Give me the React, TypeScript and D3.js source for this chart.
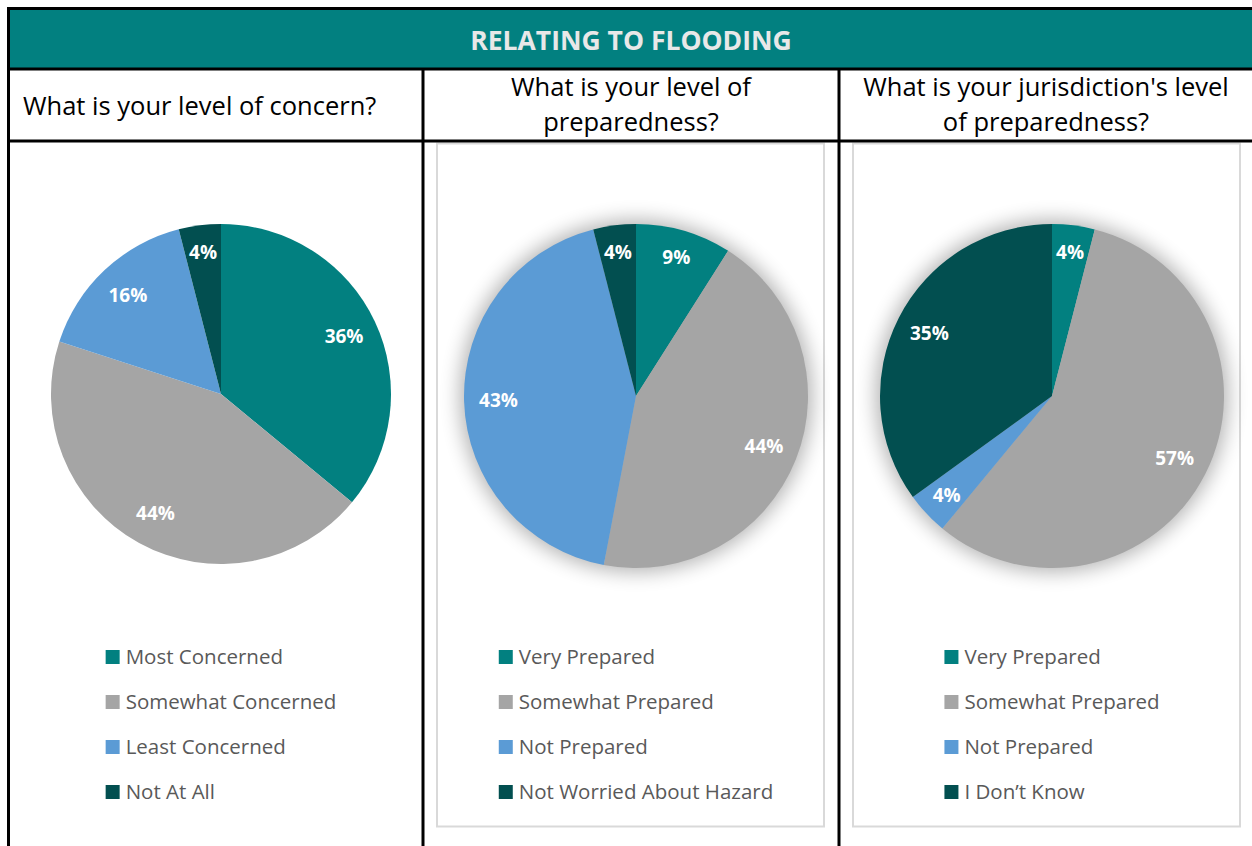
import React, { useEffect, useRef } from "react";
import * as d3 from "d3";

const headerTitle = "RELATING TO FLOODING";
const questionTexts = [
  ["What is your level of concern?"],
  ["What is your level of", "preparedness?"],
  ["What is your jurisdiction's level", "of preparedness?"],
];

const concernLabels = ["Most Concerned", "Somewhat Concerned", "Least Concerned", "Not At All"];
const concernValues = [36, 44, 16, 4];

const personalPrepLabels = ["Very Prepared", "Somewhat Prepared", "Not Prepared", "Not Worried About Hazard"];
const personalPrepValues = [9, 44, 43, 4];

const jurisdictionPrepLabels = ["Very Prepared", "Somewhat Prepared", "Not Prepared", "I Don\u2019t Know"];
const jurisdictionPrepValues = [4, 57, 4, 35];

const sliceColors = ["#028080", "#A5A5A5", "#5B9BD5", "#024F50"];

const W = 1252;
const H = 846;
const FONT = "'Open Sans', 'Noto Sans', sans-serif";

export default function App() {
  const ref = useRef<SVGSVGElement | null>(null);

  useEffect(() => {
    const svg = d3.select(ref.current);
    svg.selectAll("*").remove();

    const defs = svg.append("defs");
    const f = defs
      .append("filter")
      .attr("id", "pieShadow")
      .attr("x", "-40%")
      .attr("y", "-40%")
      .attr("width", "180%")
      .attr("height", "180%");
    f.append("feGaussianBlur").attr("stdDeviation", 10);

    const colX = [8.5, 423, 839, 1262];
    const topY = 8.5;
    const headBottom = 69;
    const qBottom = 141;

    // header band
    svg
      .append("rect")
      .attr("x", colX[0])
      .attr("y", topY)
      .attr("width", W - colX[0] + 10)
      .attr("height", headBottom - topY)
      .attr("fill", "#028080");
    svg
      .append("text")
      .attr("x", 631)
      .attr("y", 50)
      .attr("text-anchor", "middle")
      .attr("font-family", FONT)
      .attr("font-weight", 700)
      .attr("font-size", 26.5)
      .attr("fill", "#E8E8E8")
      .text(headerTitle);

    // panel chart-area borders (panels 2 and 3)
    const chartAreas = [null, [437, 824], [853, 1240]];
    chartAreas.forEach((ca) => {
      if (!ca) return;
      svg
        .append("rect")
        .attr("x", ca[0])
        .attr("y", 143.5)
        .attr("width", ca[1] - ca[0])
        .attr("height", 683)
        .attr("fill", "#fff")
        .attr("stroke", "#D9D9D9")
        .attr("stroke-width", 2);
    });

    // table lines
    const lineG = svg.append("g").attr("stroke", "#000").attr("stroke-width", 3);
    lineG.append("line").attr("x1", colX[0] - 1.5).attr("x2", W + 5).attr("y1", topY).attr("y2", topY);
    lineG.append("line").attr("x1", colX[0]).attr("x2", W + 5).attr("y1", headBottom).attr("y2", headBottom);
    lineG.append("line").attr("x1", colX[0]).attr("x2", W + 5).attr("y1", qBottom).attr("y2", qBottom);
    lineG.append("line").attr("x1", colX[0]).attr("x2", colX[0]).attr("y1", topY).attr("y2", H + 5);
    [colX[1], colX[2]].forEach((x) => {
      lineG.append("line").attr("x1", x).attr("x2", x).attr("y1", headBottom).attr("y2", H + 5);
    });

    // questions
    questionTexts.forEach((lines, i) => {
      const t = svg
        .append("text")
        .attr("font-family", FONT)
        .attr("font-size", 25.5)
        .attr("fill", "#000");
      if (lines.length === 1) {
        t.attr("x", 23).attr("y", 115).attr("text-anchor", "start").text(lines[0]);
      } else {
        const cx = (colX[i] + colX[i + 1 === 3 ? 3 : i + 1]) / 2;
        const centerX = i === 2 ? 1046 : cx;
        lines.forEach((ln, j) => {
          t.append("tspan")
            .attr("x", centerX)
            .attr("y", 96 + j * 35)
            .attr("text-anchor", "middle")
            .text(ln);
        });
      }
    });

    const panels = [
      { labels: concernLabels, values: concernValues, cx: 221, cy: 394, r: 170, shadow: false },
      { labels: personalPrepLabels, values: personalPrepValues, cx: 636, cy: 396, r: 172, shadow: true },
      { labels: jurisdictionPrepLabels, values: jurisdictionPrepValues, cx: 1052, cy: 396, r: 172, shadow: true },
    ];

    const pie = d3.pie<number>().sort(null).value((d) => d);
    const legendRows = [657, 702, 747, 792];

    panels.forEach((p) => {
      const g = svg.append("g").attr("transform", `translate(${p.cx},${p.cy})`);
      if (p.shadow) {
        g.append("circle")
          .attr("r", p.r + 4)
          .attr("fill", "#000")
          .attr("opacity", 0.3)
          .attr("filter", "url(#pieShadow)");
      }
      const arcs = pie(p.values);
      const arc = d3.arc<d3.PieArcDatum<number>>().innerRadius(0).outerRadius(p.r);
      g.selectAll("path.slice")
        .data(arcs)
        .join("path")
        .attr("class", "slice")
        .attr("d", arc)
        .attr("fill", (_d, i) => sliceColors[i]);

      g.selectAll("text.lbl")
        .data(arcs)
        .join("text")
        .attr("class", "lbl")
        .attr("transform", (d) => {
          const k = d.data < 10 ? 0.84 : 0.8;
          const la = d3.arc<d3.PieArcDatum<number>>().innerRadius(p.r * k).outerRadius(p.r * k);
          const [x, y] = la.centroid(d);
          return `translate(${x},${y})`;
        })
        .attr("text-anchor", "middle")
        .attr("dy", "0.35em")
        .attr("font-family", FONT)
        .attr("font-weight", 700)
        .attr("font-size", 19)
        .attr("fill", "#fff")
        .text((d) => `${d.data}%`);

      // legend
      const lg = svg.append("g");
      const items = lg
        .selectAll("g.item")
        .data(p.labels)
        .join("g")
        .attr("class", "item")
        .attr("transform", (_d, i) => `translate(0,${legendRows[i]})`);
      items
        .append("rect")
        .attr("x", 0)
        .attr("y", -7)
        .attr("width", 14)
        .attr("height", 14)
        .attr("fill", (_d, i) => sliceColors[i]);
      const texts = items
        .append("text")
        .attr("x", 20)
        .attr("y", 0)
        .attr("dy", "0.35em")
        .attr("font-family", FONT)
        .attr("font-size", 20.5)
        .attr("fill", "#595959")
        .text((d) => d);
      let maxW = 0;
      texts.each(function () {
        const w = (this as SVGTextElement).getComputedTextLength();
        if (w > maxW) maxW = w;
      });
      const blockW = 20 + maxW;
      lg.attr("transform", `translate(${p.cx - blockW / 2},0)`);
    });
  }, []);

  return (
    <svg
      ref={ref}
      width={W}
      height={H}
      style={{ position: "absolute", left: 0, top: 0, background: "#fff" }}
    />
  );
}
